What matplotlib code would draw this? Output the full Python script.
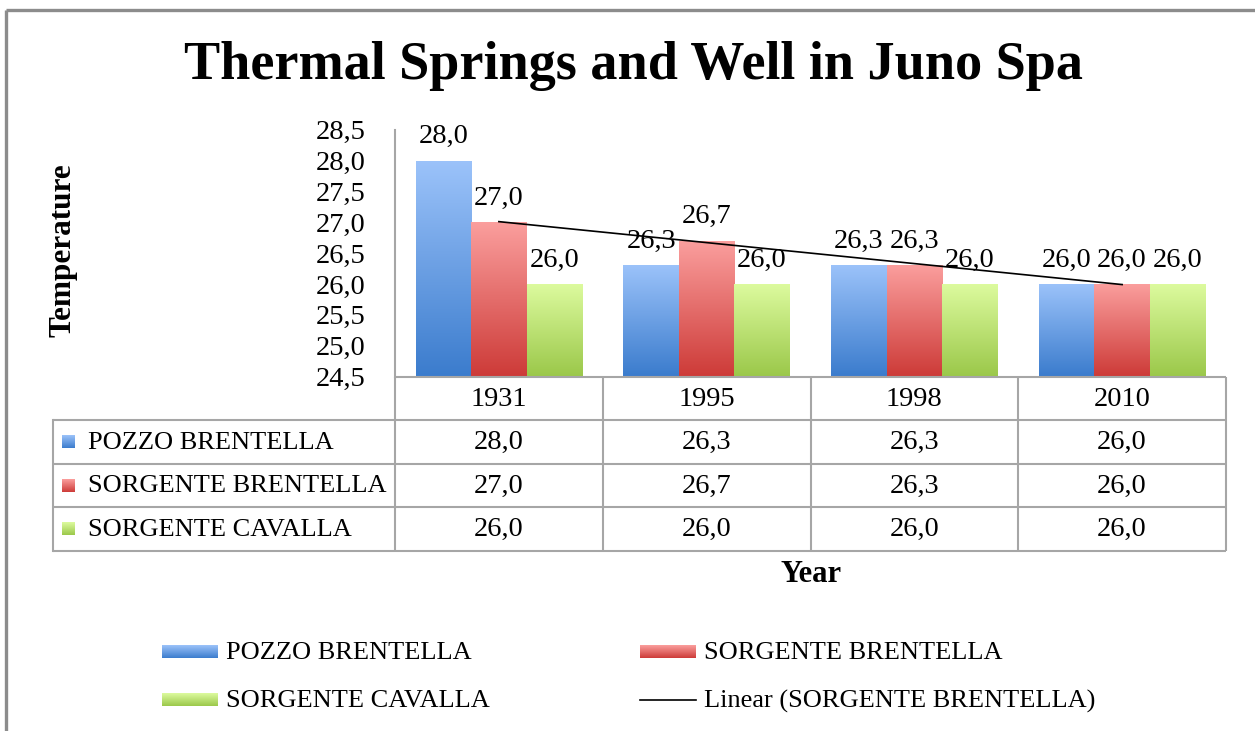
import numpy as np
import matplotlib
matplotlib.use("Agg")
import matplotlib.pyplot as plt
from matplotlib.colors import LinearSegmentedColormap
import matplotlib.transforms as mtransforms

# ---- data ----
years = ["1931", "1995", "1998", "2010"]
series_names = ["POZZO BRENTELLA", "SORGENTE BRENTELLA", "SORGENTE CAVALLA"]
pozzo_brentella = [28.0, 26.3, 26.3, 26.0]
sorgente_brentella = [27.0, 26.7, 26.3, 26.0]
sorgente_cavalla = [26.0, 26.0, 26.0, 26.0]
y_ticks = [24.5, 25.0, 25.5, 26.0, 26.5, 27.0, 27.5, 28.0, 28.5]

series_values = [pozzo_brentella, sorgente_brentella, sorgente_cavalla]
# (top colour, bottom colour) of each series' vertical gradient
gradients = [("#9CC3FA", "#3B7CCD"), ("#FB9F9E", "#CD3B38"), ("#DDFB9F", "#9BC84A")]

FONT = "Liberation Serif"
NUM_FS = 20.5     # numbers (ticks, labels, table values)
TXT_FS = 19.0     # series names
W, H = 1255, 731
GRID = "#A6A6A6"

fig = plt.figure(figsize=(W / 100, H / 100), dpi=100)
fig.patch.set_facecolor("white")


def fbox(x0, y0, x1, y1):
    """Pixel box (top-left origin) -> figure fraction rect."""
    return [x0 / W, 1 - y1 / H, (x1 - x0) / W, (y1 - y0) / H]


def fmt(v):
    return f"{v:.1f}".replace(".", ",")


# main plotting axes
ax = fig.add_axes(fbox(395, 129.7, 1226, 376.5))
ax.set_xlim(0.5, 4.5)
ax.set_ylim(24.5, 28.5)
ax.set_yticks(y_ticks)
ax.set_yticklabels([fmt(v) for v in y_ticks], fontfamily=FONT, fontsize=NUM_FS)
ax.tick_params(axis="y", length=0, pad=21)
ax.set_xticks([])
for s in ["top", "right", "bottom"]:
    ax.spines[s].set_visible(False)
ax.spines["left"].set_color(GRID)
ax.spines["left"].set_linewidth(1.5)

x = np.arange(1, len(years) + 1)
bw = 0.267
offsets = [-bw, 0, bw]


def grad_cmap(top, bottom):
    return LinearSegmentedColormap.from_list("g", [bottom, top])


grad_img = np.linspace(0, 1, 256).reshape(-1, 1)

for vals, off, (top, bot) in zip(series_values, offsets, gradients):
    bars = ax.bar(x + off, vals, bw, bottom=0, color="none", edgecolor="none")
    cmap = grad_cmap(top, bot)
    for b, v in zip(bars, vals):
        x0 = b.get_x()
        x1 = x0 + b.get_width()
        im = ax.imshow(grad_img, cmap=cmap, origin="lower", aspect="auto",
                       extent=(x0, x1, 24.5, v), zorder=2, interpolation="bilinear")
        im.set_clip_path(b)
        ax.annotate(fmt(v), (x0 + b.get_width() / 2, v),
                    xytext=(0, 12.5), textcoords="offset points", ha="center",
                    va="baseline", fontfamily=FONT, fontsize=NUM_FS, zorder=5)
ax.set_xlim(0.5, 4.5)
ax.set_ylim(24.5, 28.5)

# linear trend of SORGENTE BRENTELLA
coef = np.polyfit(x, sorgente_brentella, 1)
ax.plot(x, np.polyval(coef, x), color="black", lw=1.2, zorder=4)

# overlay axes in pixel coordinates for table, legend and frame
ov = fig.add_axes([0, 0, 1, 1])
ov.set_xlim(0, W)
ov.set_ylim(H, 0)
ov.axis("off")
ov.patch.set_alpha(0)

# outer frame (top and left edge)
ov.plot([6, W], [10, 10], color="#8C8C8C", lw=2.4, solid_capstyle="butt")
ov.plot([6, 6], [10, H], color="#8C8C8C", lw=2.4, solid_capstyle="butt")

ov.text(633, 66, "Thermal Springs and Well in Juno Spa", ha="center", va="center",
        fontfamily=FONT, fontweight="bold", fontsize=39)
ov.text(63, 250, "Temperature", rotation=90, ha="center", va="center",
        fontfamily=FONT, fontweight="bold", fontsize=22.5)
ov.text(811, 575, "Year", ha="center", va="center",
        fontfamily=FONT, fontweight="bold", fontsize=22)

# data table
row_edges = [376.5, 420, 463.5, 507, 550.5]
blend = mtransforms.blended_transform_factory(ax.transData, ov.transData)
col_edges = np.arange(0.5, len(years) + 1, 1.0)
for xe in col_edges:
    ov.plot([xe, xe], [row_edges[0], row_edges[-1]], color=GRID, lw=1.5,
            transform=blend, solid_capstyle="butt")
ov.plot([53, 53], [row_edges[1], row_edges[-1]], color=GRID, lw=1.5)
ov.plot([col_edges[0], col_edges[-1]], [row_edges[0], row_edges[0]], color=GRID,
        lw=1.5, transform=blend, solid_capstyle="butt")
right_px = ax.transData.transform((col_edges[-1], 0))[0]
for ye in row_edges[1:]:
    ov.plot([53, right_px], [ye, ye], color=GRID, lw=1.5, solid_capstyle="butt")

for i, yr in enumerate(years):
    ov.text(x[i], (row_edges[0] + row_edges[1]) / 2 + 1, yr, transform=blend,
            ha="center", va="center", fontfamily=FONT, fontsize=NUM_FS)


def grad_patch(x0, y0, x1, y1, top, bot):
    ov.imshow(grad_img, cmap=grad_cmap(top, bot), origin="lower", aspect="auto",
              extent=(x0, x1, y1, y0), interpolation="bilinear", zorder=3)


for r, (name, vals, (top, bot)) in enumerate(zip(series_names, series_values, gradients)):
    yc = (row_edges[r + 1] + row_edges[r + 2]) / 2
    grad_patch(62, yc - 6.5, 75, yc + 6.5, top, bot)
    ov.text(88, yc + 1, name, ha="left", va="center", fontfamily=FONT, fontsize=TXT_FS)
    for i, v in enumerate(vals):
        ov.text(x[i], yc + 1, fmt(v), transform=blend,
                ha="center", va="center", fontfamily=FONT, fontsize=NUM_FS)

# legend
legend_items = [
    (162, 652, "bar", 0), (640, 652, "bar", 1),
    (162, 700, "bar", 2), (640, 700, "line", None),
]
for lx, ly, kind, idx in legend_items:
    if kind == "bar":
        top, bot = gradients[idx]
        grad_patch(lx, ly - 6.5, lx + 56, ly + 6.5, top, bot)
        label = series_names[idx]
    else:
        ov.plot([lx, lx + 56], [ly, ly], color="black", lw=1.2)
        label = f"Linear ({series_names[1]})"
    ov.text(lx + 64, ly + 1, label, ha="left", va="center", fontfamily=FONT, fontsize=TXT_FS)

ov.set_xlim(0, W)
ov.set_ylim(H, 0)

fig.savefig("out.png", dpi=100)
